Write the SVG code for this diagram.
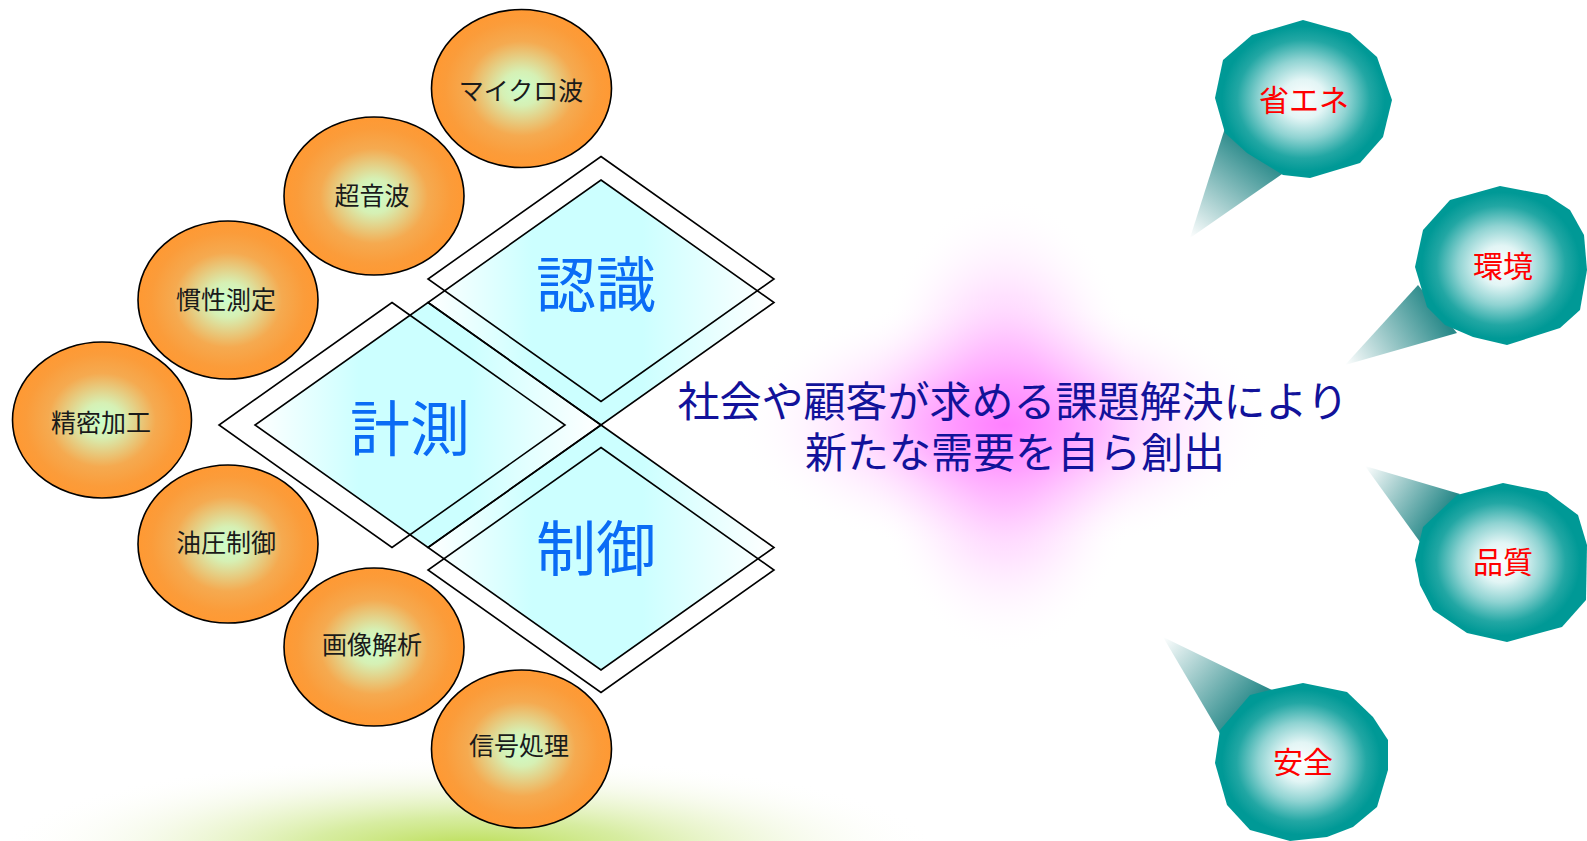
<svg xmlns="http://www.w3.org/2000/svg" width="1587" height="841" viewBox="0 0 1587 841">
<defs>
<style>
.ball{stroke:#000;stroke-width:1.6;fill:url(#gBall)}
.ballt{font-family:"Noto Sans CJK JP","Noto Sans CJK SC",sans-serif;font-size:25px;fill:#1a1a1a;text-anchor:middle}
.dia{fill:none;stroke:#000;stroke-width:1.6}
.diat{font-family:"Noto Sans CJK JP","Noto Sans CJK SC",sans-serif;font-size:60px;fill:#0a6cf5;text-anchor:middle}
.blob{fill:url(#gBlob)}
.blobt{font-family:"Noto Sans CJK JP","Noto Sans CJK SC",sans-serif;font-size:30px;fill:#ff0000;text-anchor:middle}
.main{font-family:"Liberation Sans","Noto Sans CJK JP","Noto Sans CJK SC",sans-serif;font-size:42px;fill:#12129a;text-anchor:middle}
</style>
<radialGradient id="gBall" cx="0.5" cy="0.5" r="0.5">
<stop offset="0" stop-color="#ccffcc"/>
<stop offset="0.22" stop-color="#d6f0b4"/>
<stop offset="0.6" stop-color="#f5aa50"/>
<stop offset="0.85" stop-color="#fb9c3a"/>
<stop offset="1" stop-color="#ff9933"/>
</radialGradient>
<linearGradient id="gDia" x1="0" y1="0" x2="1" y2="0">
<stop offset="0" stop-color="#ffffff"/>
<stop offset="0.3" stop-color="#ccffff"/>
<stop offset="0.62" stop-color="#ccffff"/>
<stop offset="1" stop-color="#ffffff"/>
</linearGradient>
<radialGradient id="gBlob" cx="0.5" cy="0.5" r="0.5">
<stop offset="0" stop-color="#ffffff"/>
<stop offset="0.25" stop-color="#e2f5f5"/>
<stop offset="0.5" stop-color="#8fd3d2"/>
<stop offset="0.75" stop-color="#22a7a4"/>
<stop offset="0.92" stop-color="#009996"/>
<stop offset="1" stop-color="#009996"/>
</radialGradient>
<radialGradient id="gPink" cx="0.5" cy="0.5" r="0.5">
<stop offset="0" stop-color="#ff80ff" stop-opacity="0.95"/>
<stop offset="0.35" stop-color="#ff9cff" stop-opacity="0.65"/>
<stop offset="0.7" stop-color="#ffccff" stop-opacity="0.28"/>
<stop offset="1" stop-color="#ffffff" stop-opacity="0"/>
</radialGradient>
<radialGradient id="gGreen" cx="0.5" cy="0.5" r="0.5">
<stop offset="0" stop-color="#b8dc4c"/>
<stop offset="0.35" stop-color="#cde88a" stop-opacity="0.8"/>
<stop offset="0.7" stop-color="#eef6d8" stop-opacity="0.5"/>
<stop offset="1" stop-color="#ffffff" stop-opacity="0"/>
</radialGradient>
<linearGradient id="gT1" gradientUnits="userSpaceOnUse" x1="1190" y1="238" x2="1255" y2="150">
<stop offset="0" stop-color="#ffffff"/><stop offset="1" stop-color="#2a8a8a"/>
</linearGradient>
<linearGradient id="gT2" gradientUnits="userSpaceOnUse" x1="1345" y1="365" x2="1436" y2="308">
<stop offset="0" stop-color="#ffffff"/><stop offset="1" stop-color="#2a8a8a"/>
</linearGradient>
<linearGradient id="gT3" gradientUnits="userSpaceOnUse" x1="1365" y1="466" x2="1440" y2="518">
<stop offset="0" stop-color="#ffffff"/><stop offset="1" stop-color="#2a8a8a"/>
</linearGradient>
<linearGradient id="gT4" gradientUnits="userSpaceOnUse" x1="1163" y1="637" x2="1246" y2="712">
<stop offset="0" stop-color="#ffffff"/><stop offset="1" stop-color="#2a8a8a"/>
</linearGradient>
</defs>
<rect width="1587" height="841" fill="#ffffff"/>
<g id="background">
<ellipse cx="470" cy="850" rx="470" ry="95" fill="url(#gGreen)"/>
<ellipse cx="1005" cy="425" rx="140" ry="230" fill="url(#gPink)"/>
<ellipse cx="1005" cy="425" rx="270" ry="130" fill="url(#gPink)"/>
</g>
<g id="diamonds">
<polygon points="601,180 774,302.5 601,425 428,302.5" fill="url(#gDia)"/>
<polygon points="428,302.5 601,425 428,547.5 255,425" fill="url(#gDia)"/>
<polygon points="601,425 774,547.5 601,670 428,547.5" fill="url(#gDia)"/>
<polygon class="dia" points="601,156.5 774,279 601,401.5 428,279"/>
<polygon class="dia" points="601,180 774,302.5 601,425 428,302.5"/>
<polygon class="dia" points="392,302.5 565,425 392,547.5 219,425"/>
<polygon class="dia" points="428,302.5 601,425 428,547.5 255,425"/>
<polygon class="dia" points="601,425 774,547.5 601,670 428,547.5"/>
<polygon class="dia" points="601,447.5 774,570 601,692.5 428,570"/>
</g>
<g id="node-ninshiki"><text class="diat" x="596" y="307">認識</text></g>
<g id="node-keisoku"><text class="diat" x="410" y="451">計測</text></g>
<g id="node-seigyo"><text class="diat" x="596" y="571">制御</text></g>
<g id="node-microwave"><ellipse class="ball" cx="521.5" cy="88.5" rx="90" ry="79"/><text class="ballt" x="521" y="100">マイクロ波</text></g>
<g id="node-ultrasound"><ellipse class="ball" cx="374" cy="196" rx="90" ry="79"/><text class="ballt" x="372" y="205">超音波</text></g>
<g id="node-inertial"><ellipse class="ball" cx="228" cy="300" rx="90" ry="79"/><text class="ballt" x="226" y="309">慣性測定</text></g>
<g id="node-precision"><ellipse class="ball" cx="102" cy="420" rx="89.5" ry="78"/><text class="ballt" x="101" y="432">精密加工</text></g>
<g id="node-hydraulic"><ellipse class="ball" cx="228" cy="544" rx="90" ry="79"/><text class="ballt" x="226" y="552">油圧制御</text></g>
<g id="node-image"><ellipse class="ball" cx="374" cy="647" rx="90" ry="79"/><text class="ballt" x="372" y="654">画像解析</text></g>
<g id="node-signal"><ellipse class="ball" cx="521.5" cy="749" rx="90" ry="79"/><text class="ballt" x="519" y="755">信号処理</text></g>
<g id="center-text">
<text class="main"><tspan x="1013" y="417">社会や顧客が求める課題解決により</tspan><tspan x="1015" y="468">新たな需要を自ら創出</tspan></text>
</g>
<g id="node-energy">
<polygon points="1225,128 1285,172 1190,238" fill="url(#gT1)"/>
<polygon class="blob" points="1303,20 1350,33 1377,57 1392,100 1383,137 1360,163 1310,178 1283,175 1247,153 1225,133 1215,98 1223,60 1252,35"/>
<text class="blobt" x="1304" y="111">省エネ</text>
</g>
<g id="node-environment">
<polygon points="1418,285 1457,333 1345,365" fill="url(#gT2)"/>
<polygon class="blob" points="1500,186 1547,195 1570,210 1584,235 1587,270 1580,310 1560,328 1507,345 1473,337 1445,325 1427,307 1415,267 1423,230 1450,200"/>
<text class="blobt" x="1503" y="277">環境</text>
</g>
<g id="node-quality">
<polygon points="1460,494 1420,542 1365,466" fill="url(#gT3)"/>
<polygon class="blob" points="1503,483 1547,492 1578,515 1587,545 1586,600 1562,627 1507,642 1467,633 1433,610 1420,585 1415,560 1423,527 1457,495"/>
<text class="blobt" x="1503" y="573">品質</text>
</g>
<g id="node-safety">
<polygon points="1272,690 1222,737 1163,637" fill="url(#gT4)"/>
<polygon class="blob" points="1303,683 1347,692 1373,717 1388,740 1388,770 1377,807 1353,827 1327,837 1290,841 1250,830 1227,805 1215,763 1220,730 1250,695 1270,690"/>
<text class="blobt" x="1303" y="773">安全</text>
</g>
</svg>
